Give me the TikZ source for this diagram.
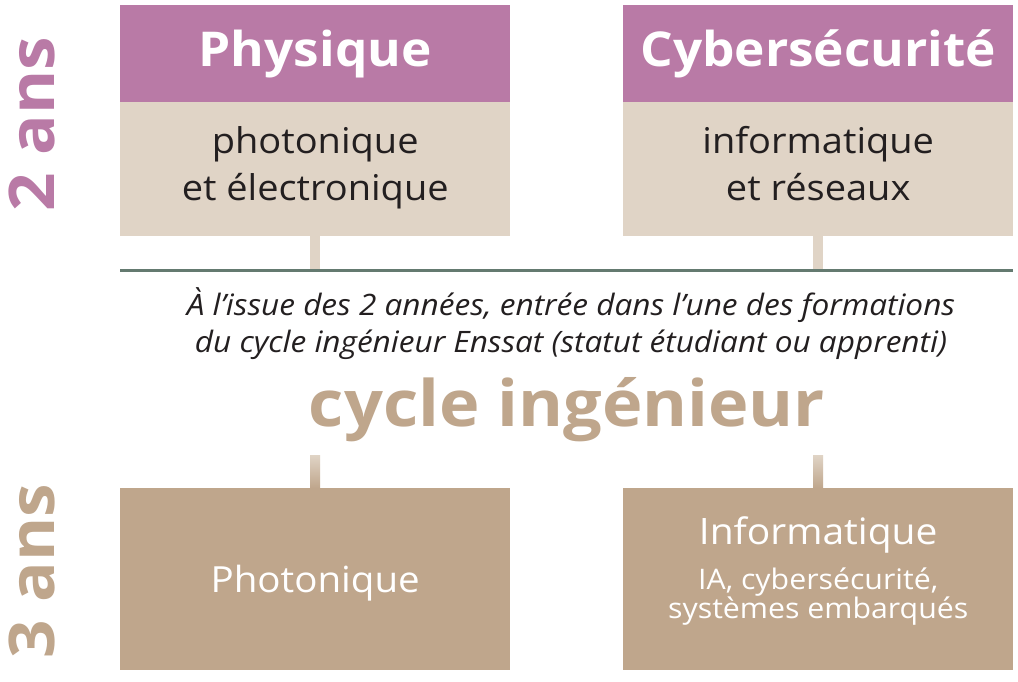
\documentclass[tikz,border=0pt]{standalone}
\usepackage{fontspec}
\setmainfont{Open Sans}[FakeStretch=1.07]
\usetikzlibrary{calc}
\definecolor{mauve}{HTML}{B97AA6}
\definecolor{sable}{HTML}{E0D4C6}
\definecolor{brun}{HTML}{BFA68C}
\definecolor{trait}{HTML}{647A70}
\definecolor{texte}{HTML}{231F20}
\begin{document}
\begin{tikzpicture}[x=1pt,y=-1pt,
  hdr/.style={fill=mauve,text=white,anchor=north west,minimum width=390pt,minimum height=97pt,inner sep=0pt,font=\bfseries\fontsize{48}{52}\selectfont},
  body/.style={fill=sable,anchor=north west,minimum width=390pt,minimum height=134pt,inner sep=0pt},
  bodytext/.style={text=texte,align=center,inner sep=0pt,font=\fontsize{35.5}{47}\selectfont},
  low/.style={fill=brun,anchor=north west,minimum width=390pt,minimum height=182pt,inner sep=0pt},
  lowtext/.style={text=white,align=center,inner sep=0pt},
  conn/.style={draw=sable,line width=10pt},
  years/.style={rotate=90,font=\bfseries\fontsize{63}{70}\selectfont,inner sep=0pt}
]
\useasboundingbox (0,0) rectangle (1018,681);
\fill[white] (0,0) rectangle (1018,681);
% top boxes
\node[hdr] (phys) at (120,5) {Physique};
\node[body] (physb) at (120,102) {};
\node[bodytext] (physt) at ($(physb.center)+(0,-1)$) {photonique\\et électronique};
\node[hdr] (cyber) at (623,5) {Cybersécurité};
\node[body] (cyberb) at (623,102) {};
\node[bodytext] (cybert) at ($(cyberb.center)+(0,-6)$) {informatique\\et réseaux};
% separator line
\coordinate (lineL) at (120,270.5);
\coordinate (lineR) at (1013,270.5);
\draw[conn] (physb.south) -- (physb.south |- lineL);
\draw[conn] (cyberb.south) -- (cyberb.south |- lineL);
\draw[trait,line width=2.6pt] (lineL) -- (lineR);
% caption
\node[font=\itshape\fontsize{29.5}{37}\selectfont,align=center,text=texte] (cap) at (571,324)
 {À l’issue des 2 années, entrée dans l’une des formations\\du cycle ingénieur Enssat (statut étudiant ou apprenti)};
\node[font=\bfseries\fontsize{64}{70}\selectfont,text=brun] (cycle) at (567,410) {cycle ingénieur};
% bottom boxes
\node[low] (photo) at (120,488) {};
\node[lowtext,font=\fontsize{36}{40}\selectfont] (photot) at ($(photo.center)+(0,4)$) {Photonique};
\node[low] (info) at (623,488) {};
\node[lowtext] (infot) at ($(info.center)+(0,-8)$) {{\fontsize{36.4}{40}\selectfont Informatique}\\[13pt]{\fontsize{28.3}{32}\selectfont IA, cybersécurité,}\\{\fontsize{28.3}{32}\selectfont systèmes embarqués}};
\shade[top color=sable,bottom color=brun] ($(photo.north)+(-5,-33)$) rectangle ($(photo.north)+(5,0)$);
\shade[top color=sable,bottom color=brun] ($(info.north)+(-5,-33)$) rectangle ($(info.north)+(5,0)$);
% years
\node[years,text=mauve] (deux) at (32,124) {2 ans};
\node[years,text=brun] (trois) at (32,571) {3 ans};
\end{tikzpicture}
\end{document}
